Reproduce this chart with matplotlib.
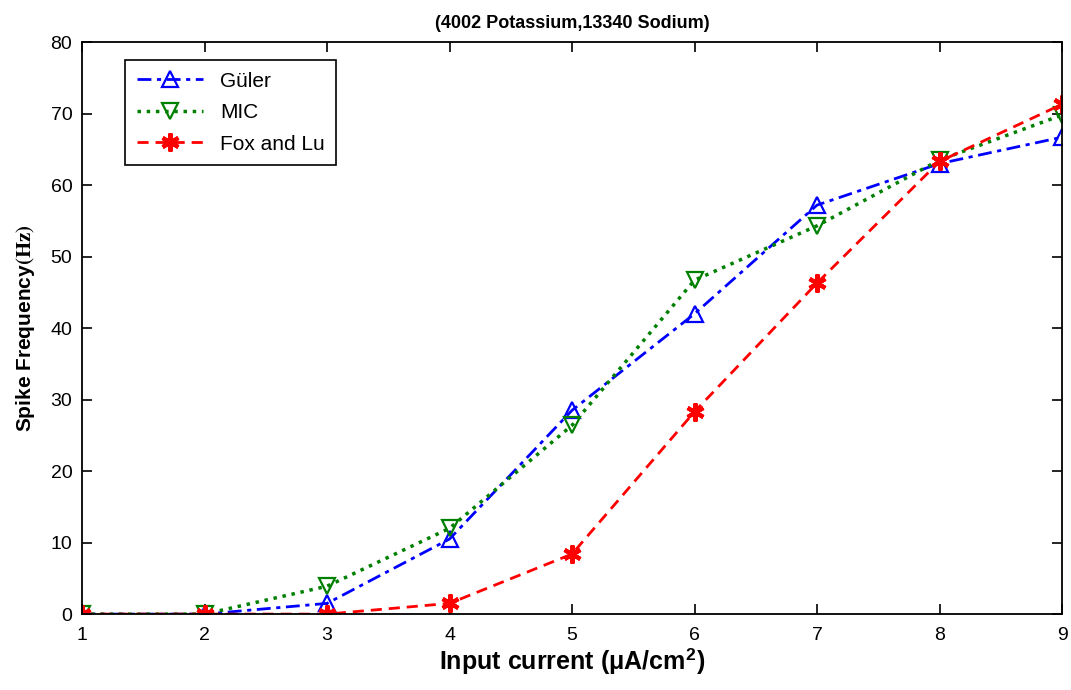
import matplotlib
matplotlib.use("Agg")
import matplotlib.pyplot as plt

x = [1, 2, 3, 4, 5, 6, 7, 8, 9]
guler = [0, 0, 1.5, 10.5, 28.5, 42.0, 57.2, 63.0, 66.7]
mic = [0, 0, 3.9, 12.0, 26.4, 46.7, 54.3, 63.5, 69.8]
fox = [0, 0, 0, 1.5, 8.4, 28.3, 46.3, 63.3, 71.3]

plt.rcParams['font.family'] = ['Liberation Sans', 'DejaVu Sans']
plt.rcParams['mathtext.fontset'] = 'stix'

fig = plt.figure(figsize=(10.71, 6.9), dpi=100)
ax = fig.add_axes([0.0766, 0.110, 0.915, 0.829])

ax.plot(x, guler, color='blue', linestyle=(0, (5, 2, 1.5, 2)), linewidth=2, marker='^',
        markersize=12, markerfacecolor='none', markeredgecolor='blue',
        markeredgewidth=1.6, label='Güler')
ax.plot(x, mic, color='green', linestyle=':', linewidth=2.5, marker='v',
        markersize=12, markerfacecolor='none', markeredgecolor='green',
        markeredgewidth=1.6, label='MIC')
ax.plot(x, fox, color='red', linestyle=(0, (4, 2.5)), linewidth=2, marker=(6, 2, 0),
        markersize=13, markerfacecolor='red', markeredgecolor='red',
        markeredgewidth=3, label='Fox and Lu')

ax.set_xlim(1, 9)
ax.set_ylim(0, 80)
ax.set_xticks(x)
ax.set_yticks(range(0, 81, 10))
ax.tick_params(direction='in', length=7, top=True, right=True, labelsize=14,
               width=1.2, pad=7)
ax.tick_params(axis='x', pad=9)
for s in ax.spines.values():
    s.set_linewidth(1.3)

ax.set_title('(4002 Potassium,13340 Sodium)', fontsize=13, fontweight='bold', pad=10)
ax.set_xlabel(r'Input current ($\mathregular{\mu}$A/cm$^{\mathregular{2}}$)', fontsize=18,
              fontweight='bold', labelpad=2)
ax.set_ylabel(r'Spike Frequency$\mathbf{(Hz)}$', fontsize=15, fontweight='bold', labelpad=10)

leg = ax.legend(loc='upper left', bbox_to_anchor=(0.044, 0.9685), borderaxespad=0,
                fontsize=15, fancybox=False, edgecolor='black', framealpha=1,
                handlelength=3.2, borderpad=0.55, labelspacing=0.6)
leg.get_frame().set_linewidth(1.2)

fig.savefig('out.png', dpi=100)
